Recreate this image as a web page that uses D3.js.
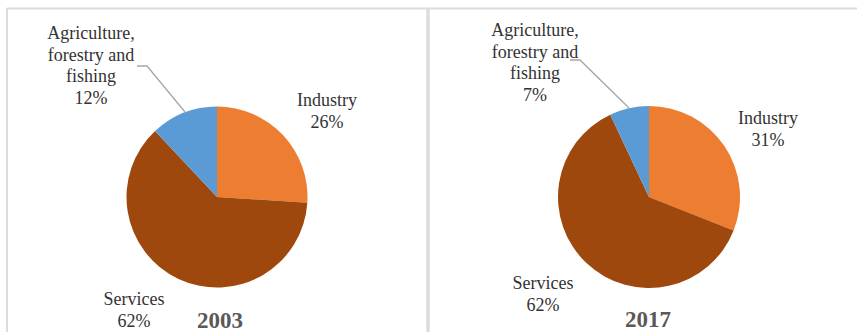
<!DOCTYPE html>
<html><head><meta charset="utf-8">
<script src="https://cdn.jsdelivr.net/npm/d3@7"></script>
<style>body{margin:0;background:#fff}svg{display:block}</style>
</head><body>
<svg id="c" width="857" height="332"></svg>
<script>
const categories = ["Industry", "Services", "Agriculture, forestry and fishing"];
const years = ["2003", "2017"];
const values2003 = [26, 62, 12];
const values2017 = [31, 62, 7];
const colors = ["#ED7D31", "#9E480E", "#5B9BD5"];

const FONT = "Liberation Serif";
const svg = d3.select("#c");
svg.append("line").attr("x1",7).attr("x2",857).attr("y1",8.5).attr("y2",8.5).attr("stroke","#dcdcdc").attr("stroke-width",2);
svg.append("line").attr("x1",7).attr("x2",7).attr("y1",8).attr("y2",332).attr("stroke","#dcdcdc").attr("stroke-width",2);
svg.append("line").attr("x1",428).attr("x2",428).attr("y1",8).attr("y2",332).attr("stroke","#dcdcdc").attr("stroke-width",3.5);

const panels = [
  {year: years[0], values: values2003, cx: 217, cy: 197, r: 90.5,
   labels: [
     {lines:["Industry","26%"], x:327, y:100},
     {lines:["Services","62%"], x:134, y:299},
     {lines:["Agriculture,","forestry and","fishing","12%"], x:91, y:33}
   ],
   leader: [[137,66],[147,66],[185,112]],
   title: {x:220, y:320}},
  {year: years[1], values: values2017, cx: 649, cy: 197, r: 91,
   labels: [
     {lines:["Industry","31%"], x:768, y:118},
     {lines:["Services","62%"], x:543, y:283},
     {lines:["Agriculture,","forestry and","fishing","7%"], x:535, y:30}
   ],
   leader: [[570,60],[580,60],[629,108]],
   title: {x:648, y:319}}
];

const pie = d3.pie().sort(null).value(d => d);
panels.forEach(p => {
  const arc = d3.arc().innerRadius(0).outerRadius(p.r);
  const g = svg.append("g").attr("transform", `translate(${p.cx},${p.cy})`);
  g.selectAll("path").data(pie(p.values)).join("path")
    .attr("d", arc).attr("fill", (d,i) => colors[i]);
  svg.append("polyline").attr("points", p.leader.map(q=>q.join(",")).join(" "))
    .attr("fill","none").attr("stroke","#a6a6a6").attr("stroke-width",1.3);
  p.labels.forEach((lb, i) => {
    const t = svg.append("text").attr("text-anchor","middle")
      .style("font-family", FONT).style("font-size","18px").attr("fill","#333333");
    lb.lines.forEach((ln, k) => {
      const txt = k === lb.lines.length-1 ? p.values[i] + "%" : ln;
      t.append("tspan").attr("x", lb.x).attr("y", lb.y + k*21.5).attr("dy","0.35em").text(txt);
    });
  });
  svg.append("text").attr("x", p.title.x).attr("y", p.title.y).attr("dy","0.35em")
    .attr("text-anchor","middle").style("font-family", FONT)
    .style("font-weight","bold").style("font-size","23px").attr("fill","#595959").text(p.year);
});
</script>
</body></html>
